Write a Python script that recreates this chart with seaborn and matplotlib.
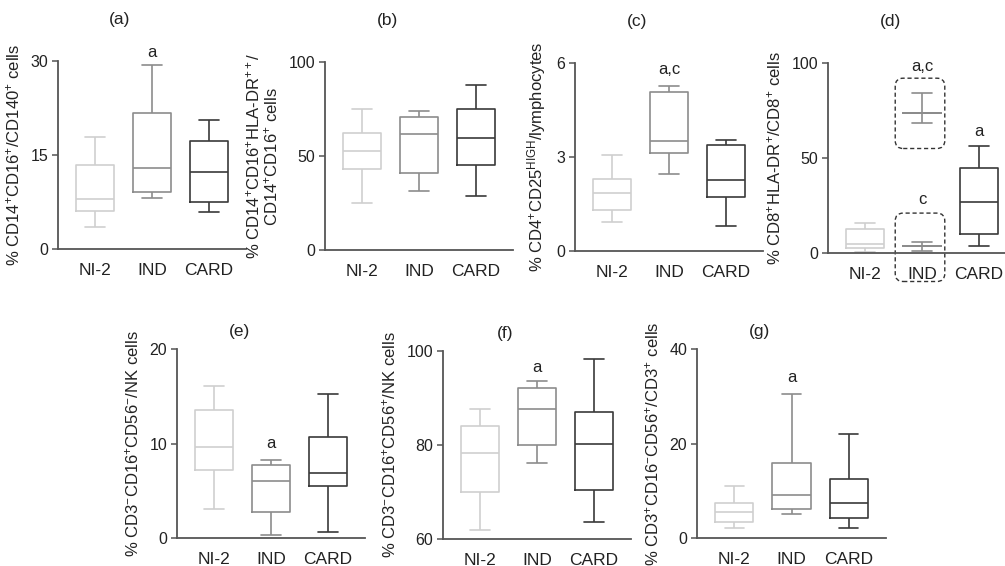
import pandas as pd
import seaborn as sns
import matplotlib.pyplot as plt
from matplotlib.patches import FancyBboxPatch

# groups and box colours
groups = ["NI-2", "IND", "CARD"]
group_colors = ["#cfcfcf", "#8c8c8c", "#3a3a3a"]

# five-number summaries per group: [min, q1, median, q3, max]
a_vals = [[3.5, 6.1, 8.0, 13.4, 17.9], [8.1, 9.1, 12.9, 21.7, 29.3], [5.9, 7.5, 12.3, 17.3, 20.6]]
b_vals = [[24.8, 43.2, 52.7, 62.5, 75.0], [31.2, 41.1, 61.8, 71.0, 74.2], [28.7, 45.1, 59.6, 75.0, 87.6]]
c_vals = [[0.94, 1.32, 1.84, 2.30, 3.06], [2.45, 3.14, 3.50, 5.06, 5.27], [0.81, 1.72, 2.27, 3.39, 3.53]]
d_vals = [[0.5, 2.8, 4.6, 12.6, 15.8], [1.0, 3.5, 3.5, 3.5, 5.6], [3.5, 10.2, 27.0, 44.7, 56.3]]
d_ind_high = [68.2, 73.5, 73.5, 73.5, 84.4]
e_vals = [[3.1, 7.15, 9.6, 13.5, 16.1], [0.35, 2.7, 6.05, 7.7, 8.25], [0.67, 5.5, 6.9, 10.7, 15.2]]
f_vals = [[62.0, 70.0, 78.2, 84.0, 87.6], [76.1, 79.9, 87.7, 92.1, 93.7], [63.6, 70.5, 80.3, 87.0, 98.2]]
g_vals = [[2.2, 3.3, 5.4, 7.5, 11.0], [5.1, 6.2, 9.2, 15.9, 30.5], [2.2, 4.2, 7.4, 12.5, 22.1]]

y_maxes = [30, 100, 6, 100, 20, 100, 40]
y_mins = [0, 0, 0, 0, 0, 60, 0]
titles = ["(a)", "(b)", "(c)", "(d)", "(e)", "(f)", "(g)"]
ylabels = [
    "% CD14$^{+}$CD16$^{+}$/CD140$^{+}$ cells",
    "% CD14$^{+}$CD16$^{+}$HLA-DR$^{++}$/\nCD14$^{+}$CD16$^{+}$ cells",
    "% CD4$^{+}$CD25$^{HIGH}$/lymphocytes",
    "% CD8$^{+}$HLA-DR$^{+}$/CD8$^{+}$ cells",
    "% CD3$^{-}$CD16$^{+}$CD56$^{-}$/NK cells",
    "% CD3$^{-}$CD16$^{+}$CD56$^{+}$/NK cells",
    "% CD3$^{+}$CD16$^{-}$CD56$^{+}$/CD3$^{+}$ cells",
]
# significance letters: (panel, group index, y value, text)
sig_marks = [(0, 1, 31.3, "a"), (2, 1, 5.78, "a,c"), (3, 1, 98.4, "a,c"),
             (3, 2, 63.7, "a"), (3, 1, 28.4, "c"), (4, 1, 10.0, "a"),
             (5, 1, 96.4, "a"), (6, 1, 34.0, "a")]

# axes boxes in pixels: left, top, width, height
ax_px = [(58, 61, 188, 188), (325, 62, 188, 188), (575, 63, 188, 188),
         (828, 63, 188, 190), (177, 349, 188, 189), (443, 351, 188, 188),
         (697, 349, 189, 189)]
W, H = 1005, 566


def to_frame(vals):
    rows = []
    for g, v in zip(groups, vals):
        for x in v:
            rows.append((g, x))
    return pd.DataFrame(rows, columns=["group", "value"])


def draw_boxes(ax, df):
    sns.boxplot(data=df, x="group", y="value", hue="group", order=groups,
                hue_order=groups, palette=group_colors, fill=False,
                whis=(0, 100), width=0.67, linewidth=1.2, legend=False,
                ax=ax)


sns.set_theme(style="white")
plt.rcParams["font.family"] = ["Liberation Sans", "DejaVu Sans"]
plt.rcParams["mathtext.default"] = "regular"

fig = plt.figure(figsize=(W / 100, H / 100), dpi=100)
all_vals = [a_vals, b_vals, c_vals, d_vals, e_vals, f_vals, g_vals]

axes = []
for i, vals in enumerate(all_vals):
    l, t, w, h = ax_px[i]
    ax = fig.add_axes([l / W, 1 - (t + h) / H, w / W, h / H])
    axes.append(ax)
    draw_boxes(ax, to_frame(vals))
    if i == 3:
        # IND in panel (d) splits in two subgroups
        draw_boxes(ax, pd.DataFrame({"group": ["IND"] * 5, "value": d_ind_high}))
    lo, hi = y_mins[i], y_maxes[i]
    ax.set_ylim(lo, hi)
    ax.set_yticks([lo, (lo + hi) / 2, hi])
    ax.set_yticklabels([f"{v:g}" for v in [lo, (lo + hi) / 2, hi]])
    ax.set_xlim(-0.65, 2.65)
    ax.set_xlabel("")
    ax.set_ylabel(ylabels[i], fontsize=12, color="#222222", labelpad=6,
                  linespacing=1.0)
    for s in ["top", "right"]:
        ax.spines[s].set_visible(False)
    for s in ["left", "bottom"]:
        ax.spines[s].set_color("#555555")
        ax.spines[s].set_linewidth(1.3)
    ax.tick_params(axis="y", direction="out", length=4, width=1.1,
                   color="#555555", labelsize=11.5, labelcolor="#222222",
                   left=True, pad=3)
    ax.tick_params(axis="x", length=0, labelsize=12.5, labelcolor="#222222",
                   pad=10)
    ax.set_facecolor("none")
    # panel letter, placed left of the axes centre like the original
    top_row = i < 4
    ax.text(0.33, 1.22 if top_row else 1.095, titles[i], transform=ax.transAxes,
            ha="center", va="center", fontsize=12.5, color="#222222")

for p, gi, yv, txt in sig_marks:
    axes[p].text(gi, yv, txt, ha="center", va="center", fontsize=12,
                 color="#222222", clip_on=False)

# dashed frames around the split IND group in panel (d)
axd = axes[3]
for y0, y1 in [(55, 92), (-15, 21)]:
    axd.add_patch(FancyBboxPatch((0.53, y0), 0.87, y1 - y0,
                                 boxstyle="round,pad=0,rounding_size=0.14",
                                 mutation_aspect=30, fill=False, ls=(0, (3, 2)),
                                 lw=1.0, ec="#333333", clip_on=False))

fig.savefig("out.png", dpi=100)
